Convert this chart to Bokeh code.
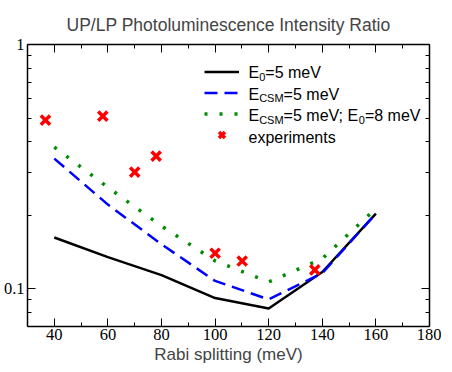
from bokeh.plotting import figure
from bokeh.models import (Legend, LegendItem, LinearAxis, LogAxis, FixedTicker,
                          CustomJSTickFormatter, Label, Range1d)
from bokeh.embed import file_html
from bokeh.resources import INLINE

# ---- data ----
rabi = [40, 60, 80, 100, 120, 140, 160]
e0_5 = [0.162, 0.1346, 0.1137, 0.0915, 0.083, 0.117, 0.203]
ecsm_5 = [0.341, 0.221, 0.152, 0.1076, 0.0904, 0.1157, 0.203]
ecsm_5_e0_8 = [0.38, 0.26, 0.1805, 0.130, 0.1066, 0.1327, 0.213]
exp_x = [36.7, 58.1, 70.0, 78.0, 100.0, 110.1, 137.2]
exp_y = [0.49, 0.509, 0.30, 0.349, 0.1397, 0.1298, 0.1194]

x_major = [40, 60, 80, 100, 120, 140, 160, 180]
x_minor = [30, 50, 70, 90, 110, 130, 150, 170]
y_major = [0.1, 1]
y_minor = [0.08, 0.09, 0.2, 0.3, 0.4, 0.5, 0.6, 0.7, 0.8, 0.9]

FW, FH = 402, 282
SANS = "Liberation Sans"
SERIF = "Liberation Serif"

p = figure(frame_width=FW, frame_height=FH, y_axis_type="log",
           x_range=Range1d(30, 180), y_range=Range1d(0.07, 1),
           output_backend="svg", toolbar_location=None,
           min_border_left=22, min_border_right=12, min_border_top=44,
           min_border_bottom=0)
p.grid.visible = False
p.outline_line_color = None
p.background_fill_color = "white"

p.title.text = "UP/LP Photoluminescence Intensity Ratio"
p.title.text_font = SANS
p.title.text_font_size = "17.5px"
p.title.text_font_style = "normal"
p.title.align = "center"
p.title.standoff = 20

xt = FixedTicker(ticks=x_major, minor_ticks=x_minor)
yt = FixedTicker(ticks=y_major, minor_ticks=y_minor)
yfmt = CustomJSTickFormatter(code="return tick.toString();")
blank = CustomJSTickFormatter(code="return '';")


def style(ax):
    ax.axis_line_width = 1.5
    ax.axis_line_color = "black"
    ax.major_tick_in = 8
    ax.major_tick_out = 0
    ax.minor_tick_in = 4
    ax.minor_tick_out = 0
    ax.major_tick_line_width = 1
    ax.minor_tick_line_width = 1
    ax.major_label_text_font = SERIF
    ax.major_label_text_font_size = "16.5px"
    ax.major_label_text_color = "black"


xa = p.xaxis[0]
xa.ticker = xt
style(xa)
xa.major_label_standoff = 2
xa.axis_label = "Rabi splitting (meV)"
xa.axis_label_text_font = SANS
xa.axis_label_text_font_size = "17px"
xa.axis_label_text_font_style = "normal"
xa.axis_label_standoff = 2

ya = p.yaxis[0]
ya.ticker = yt
ya.formatter = yfmt
style(ya)
ya.major_label_standoff = 3

top = LinearAxis(ticker=xt, formatter=blank)
style(top)
top.major_label_text_font_size = "1px"
top.major_label_standoff = 0
p.add_layout(top, "above")

right = LogAxis(ticker=yt, formatter=blank)
style(right)
right.major_label_text_font_size = "1px"
right.major_label_standoff = 0
p.add_layout(right, "right")

r1 = p.line(rabi, e0_5, line_color="black", line_width=2.5)
r2 = p.line(rabi, ecsm_5, line_color="#0000ff", line_width=2.5, line_dash="13 7")
r3 = p.line(rabi, ecsm_5_e0_8, line_color="#008b00", line_width=3.5, line_dash="3 12")
r4 = p.scatter(exp_x, exp_y, marker="x", size=13, line_color="#ff0000", line_width=3.5)

# legend rows (pixels from the frame top)
rows_top = [25.8, 47.3, 68.8, 90.3]
RH = 21.5
legend = Legend(items=[LegendItem(label=" ", renderers=[r]) for r in (r1, r2, r3, r4)],
                location=(177, FH - (rows_top[0] - RH / 2) - 4 * RH),
                glyph_width=35, glyph_height=int(RH), label_height=int(RH),
                spacing=0, padding=0, margin=0, border_line_alpha=0,
                background_fill_alpha=0, label_standoff=0, label_width=0,
                label_text_font_size="1px")
p.add_layout(legend)

# legend texts with subscripts (screen units, relative to the frame)
X0 = 221
base = [FH - (r + 2.5) for r in rows_top]
M, S = 16, 11


def txt(x, y, s, size):
    p.add_layout(Label(x=x, y=y, x_units="screen", y_units="screen", text=s,
                       text_font=SANS, text_font_size=f"{size}px",
                       text_baseline="alphabetic", text_align="left",
                       text_color="black"))


wE = 0.667 * M
txt(X0, base[0], "E", M)
txt(X0 + wE, base[0] - 4, "0", S)
txt(X0 + wE + 0.556 * S, base[0], "=5 meV", M)

wCSM = 2.222 * S
txt(X0, base[1], "E", M)
txt(X0 + wE, base[1] - 4, "CSM", S)
txt(X0 + wE + wCSM, base[1], "=5 meV", M)

txt(X0, base[2], "E", M)
txt(X0 + wE, base[2] - 4, "CSM", S)
txt(X0 + wE + wCSM, base[2], "=5 meV; E", M)
xs = X0 + wE + wCSM + 4.697 * M
txt(xs, base[2] - 4, "0", S)
txt(xs + 0.556 * S, base[2], "=8 meV", M)

txt(X0, base[3], "experiments", M)

open("out.html", "w").write(file_html(p, INLINE))
